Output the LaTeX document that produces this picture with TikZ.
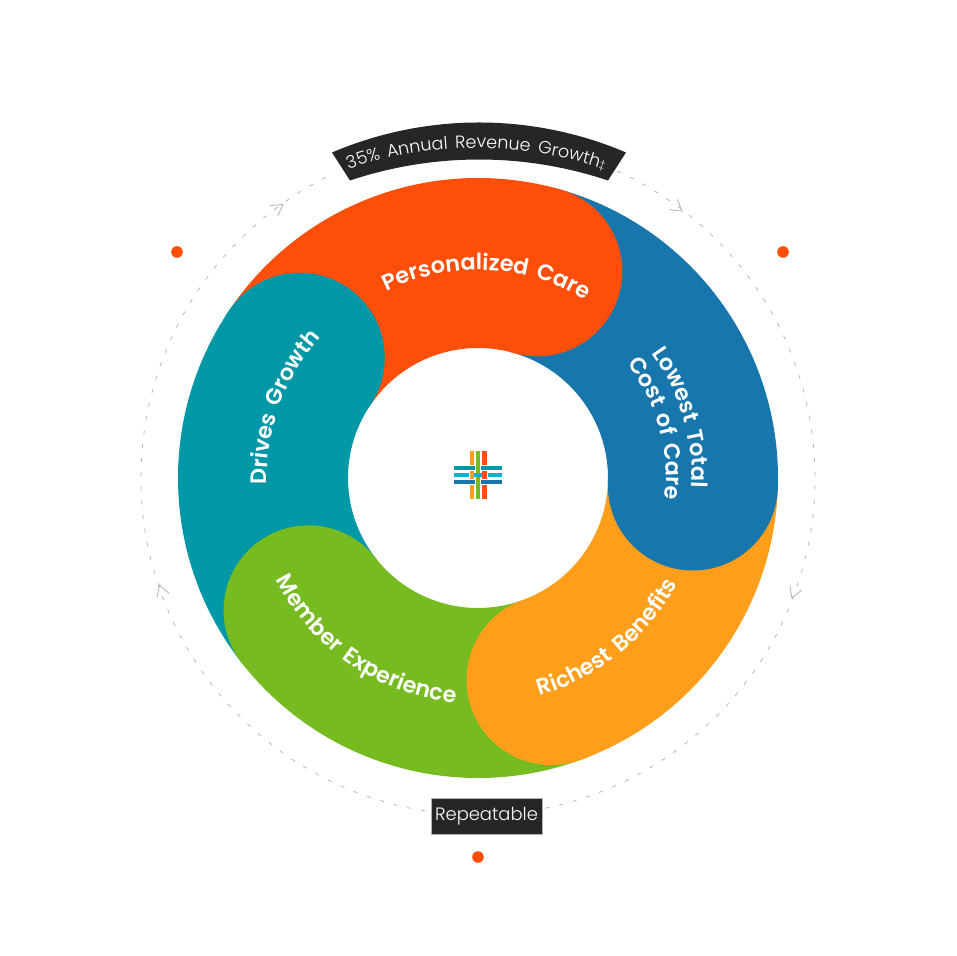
\documentclass[tikz,border=0pt]{standalone}
\usepackage{fontspec}
\setmainfont{Poppins Light}[BoldFont={Poppins SemiBold},WordSpace=1.5]
\usepackage{xcolor}
\usetikzlibrary{decorations.text}
\definecolor{flame}{RGB}{253,79,10}
\definecolor{ocean}{RGB}{23,118,171}
\definecolor{amber}{RGB}{255,158,27}
\definecolor{leaf}{RGB}{118,188,33}
\definecolor{lagoon}{RGB}{0,151,167}
\definecolor{sky}{RGB}{0,178,214}
\definecolor{coal}{RGB}{38,38,38}
\definecolor{ash}{RGB}{176,176,176}
\tikzset{
  dashring/.style={ash,line width=0.4pt,dash pattern=on 2.4pt off 5.6pt},
  chevron/.style={ash,line width=0.45pt},
  spot/.style={circle,fill=flame,minimum size=6.6pt,inner sep=0pt},
  logobar/.style={line width=2.5pt,preaction={draw=white,line width=3.6pt}},
  label/.style={decorate,decoration={text along path,text align=center,
    text={|\color{white}\fontsize{12.7}{14}\bfseries|#1}}}
}
\begin{document}
\begin{tikzpicture}[x=0.02cm,y=0.02cm]
    \useasboundingbox (-478,-478) rectangle (478,478);

    % ring
    \foreach \from/\to/\col in {146/74/flame,74/-2/ocean,-2/-70/amber,-70/-142/leaf,-142/-214/lagoon}
      \fill[\col] (\from:300) arc[start angle=\from,end angle=\to,radius=300]
        -- (\to:130) arc[start angle=\to,end angle=\from,radius=130] -- cycle;
    \foreach \to/\col in {74/flame,-2/ocean,-70/amber,-142/leaf,-214/lagoon}
      \fill[\col] (\to:215) circle[radius=85];

    % labels
    \path[label={Personalized Care}] (120:208) arc[start angle=120,end angle=55,radius=208];
    \path[label={Lowest Total}] (45:214) arc[start angle=45,end angle=-12,radius=214];
    \path[label={Cost of Care}] (44:188) arc[start angle=44,end angle=-13,radius=188];
    \path[label={Richest Benefits}] (-86:226) arc[start angle=-86,end angle=-16,radius=226];
    \path[label={Member Experience}] (195:226) arc[start angle=195,end angle=276,radius=226];
    \path[label={Drives Growth}] (195:211) arc[start angle=195,end angle=125,radius=211];

    % outer dashed loop
    \draw[dashring] (65.6:337) arc[start angle=65.6,end angle=-78.5,radius=337];
    \draw[dashring] (-99:337) arc[start angle=-99,end angle=-244.5,radius=337];
    \foreach \a in {125.5,52.6,-20.9,198.6}
      \draw[chevron,shift={(\a:336)},rotate=\a-90] (-11,6.5) -- (0,0) -- (-11,-6.5);

    % banner
    \fill[coal] (-146,325.5) arc[start angle=113.08,end angle=66.92,radius=375]
      -- (130,297.5) arc[start angle=71.52,end angle=108.48,radius=407] -- cycle;
    \path[decorate,decoration={text along path,text align=center,
      text={|\color{white}\fontsize{10}{13}\selectfont|35{\%} Annual Revenue Growth|\color{white}\fontsize{6}{7}\selectfont|‡}}]
      (120:394) ++(-2,-64) arc[start angle=120,end angle=60,radius=394];

    \node[fill=coal,draw=ash,line width=0.3pt,text=white,minimum width=63pt,minimum height=20.4pt,
      inner sep=0pt,font=\fontsize{10.2}{13}\selectfont] (repeatable) at (8.5,-338) {Repeatable};

    % dots
    \node[spot] (dotleft) at (-301,226) {};
    \node[spot] (dotright) at (305,226) {};
    \node[spot] (dotbottom) at (0,-379) {};

    % logo
    \begin{scope}[shift={(0,3)}]
      \draw[sky,logobar] (-24,0) -- (24,0);
      \foreach \x/\col in {-6/amber,6.5/flame}
        \draw[\col,logobar] (\x,-24) -- (\x,24);
      \foreach \y/\col in {7/lagoon,-7/ocean}
        \draw[\col,logobar] (-24,\y) -- (24,\y);
      \draw[leaf,logobar] (0,-24) -- (0,24);
      \draw[sky,line width=2.5pt] (-3.8,0) -- (3.8,0);
    \end{scope}
\end{tikzpicture}
\end{document}
